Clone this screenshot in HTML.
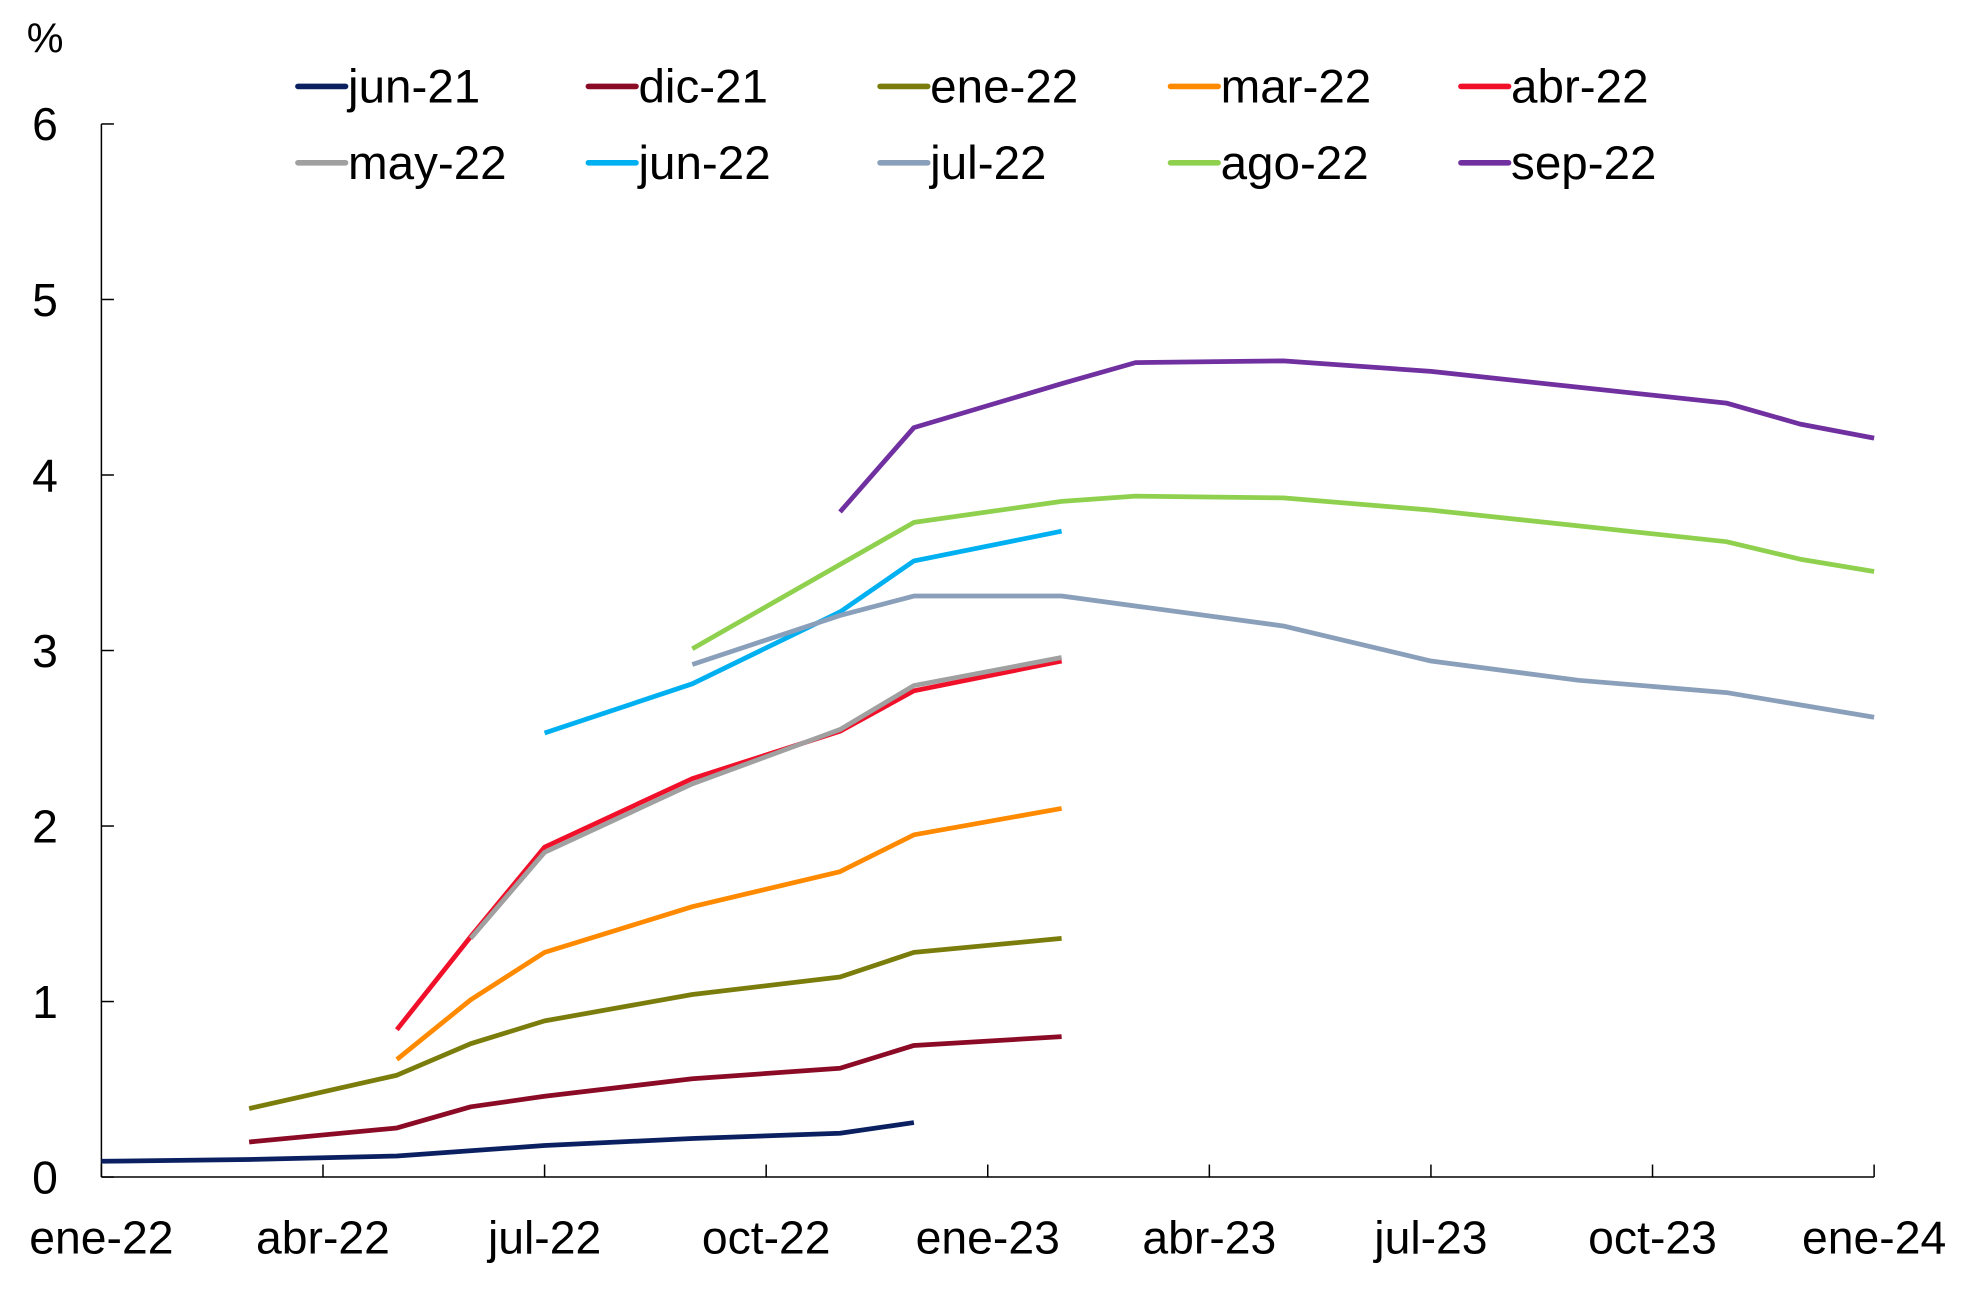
<!DOCTYPE html>
<html><head><meta charset="utf-8"><style>
html,body{margin:0;padding:0;background:#fff;}
svg{display:block;}
text{font-family:"Liberation Sans Narrow","Liberation Sans",sans-serif;fill:#000;}
</style></head><body>
<svg id="chart" width="1963" height="1291" viewBox="0 0 1568 1031" preserveAspectRatio="none" xmlns="http://www.w3.org/2000/svg">
<g id="axes"></g>
<g id="series"></g>
<g id="legend"></g>
</svg>
<script>
const xTickLabels = ["ene-22","abr-22","jul-22","oct-22","ene-23","abr-23","jul-23","oct-23","ene-24"];
const yTicks = [0,1,2,3,4,5,6];
const seriesNames = ["jun-21","dic-21","ene-22","mar-22","abr-22","may-22","jun-22","jul-22","ago-22","sep-22"];
const seriesColors = ["#0b2060","#8b0a25","#7a7d0c","#ff8a00","#f0102a","#a0a0a0","#00b0f0","#8a9fba","#8fd14f","#7030a0"];
// month index (0 = ene-22)
const months_jun21 = [0,2,4,6,8,10,11];
const values_jun21 = [0.09,0.10,0.12,0.18,0.22,0.25,0.31];
const months_dic21 = [2,4,5,6,8,10,11,13];
const values_dic21 = [0.20,0.28,0.40,0.46,0.56,0.62,0.75,0.80];
const months_ene22 = [2,4,5,6,8,10,11,13];
const values_ene22 = [0.39,0.58,0.76,0.89,1.04,1.14,1.28,1.36];
const months_mar22 = [4,5,6,8,10,11,13];
const values_mar22 = [0.67,1.01,1.28,1.54,1.74,1.95,2.10];
const months_abr22 = [4,5,6,8,10,11,13];
const values_abr22 = [0.84,1.37,1.88,2.27,2.54,2.77,2.94];
const months_may22 = [5,6,8,10,11,13];
const values_may22 = [1.36,1.85,2.24,2.55,2.80,2.96];
const months_jun22 = [6,8,10,11,13];
const values_jun22 = [2.53,2.81,3.22,3.51,3.68];
const months_jul22 = [8,10,11,13,16,18,20,22,24];
const values_jul22 = [2.92,3.20,3.31,3.31,3.14,2.94,2.83,2.76,2.62];
const months_ago22 = [8,11,13,14,16,18,20,22,23,24];
const values_ago22 = [3.01,3.73,3.85,3.88,3.87,3.80,3.71,3.62,3.52,3.45];
const months_sep22 = [10,11,13,14,16,18,20,22,23,24];
const values_sep22 = [3.79,4.27,4.52,4.64,4.65,4.59,4.50,4.41,4.29,4.21];

const allMonths = [months_jun21,months_dic21,months_ene22,months_mar22,months_abr22,months_may22,months_jun22,months_jul22,months_ago22,months_sep22];
const allValues = [values_jun21,values_dic21,values_ene22,values_mar22,values_abr22,values_may22,values_jun22,values_jul22,values_ago22,values_sep22];

const X0=81, X1=1497, Y0=940, Y1=99;
const xScale = m => X0 + (X1-X0)*m/24;
const yScale = v => Y0 - (Y0-Y1)*v/6;
const NS="http://www.w3.org/2000/svg";
function mk(tag, attrs, parent){const e=document.createElementNS(NS,tag);for(const k in attrs)e.setAttribute(k,attrs[k]);parent.appendChild(e);return e;}

const axes=document.getElementById('axes');
let el=mk('line',{x1:X0,y1:Y1,x2:X0,y2:Y0,stroke:'#000','stroke-width':1.2},axes);


el=mk('line',{x1:X0,y1:Y0,x2:X1,y2:Y0,stroke:'#000','stroke-width':1.2},axes);


yTicks.forEach(v=>{
  const y=yScale(v);
  const t=mk('line',{x1:X0,y1:y,x2:X0+10,y2:y,stroke:'#000','stroke-width':1.2},axes);
  
  
  const l=mk('text',{x:36,y:y+13,'font-size':37,'text-anchor':'middle'},axes);
  l.textContent=v;
  
  
});
xTickLabels.forEach((s,i)=>{
  const x=xScale(i*3);
  const t=mk('line',{x1:x,y1:Y0,x2:x,y2:Y0-10,stroke:'#000','stroke-width':1.2},axes);
  
  
  const l=mk('text',{x:x,y:1001,'font-size':37,'text-anchor':'middle'},axes);
  l.textContent=s;
  
  
});
el=mk('text',{x:36,y:42,'font-size':33,'text-anchor':'middle'},axes);
el.textContent='%';



const sg=document.getElementById('series');
allMonths.forEach((ms,i)=>{
  const pts=ms.map((m,j)=>xScale(m).toFixed(1)+','+yScale(allValues[i][j]).toFixed(1)).join(' ');
  const p=mk('polyline',{points:pts,fill:'none',stroke:seriesColors[i],'stroke-width':3.8,'stroke-linejoin':'round'},sg);
  
  
});

const lg=document.getElementById('legend');
const colX=[238,470,703,935,1167], rowY=[69,130];
seriesNames.forEach((n,i)=>{
  const x=colX[i%5], y=rowY[Math.floor(i/5)];
  const g=mk('g',{},lg);
  
  
  mk('line',{x1:x,y1:y,x2:x+38,y2:y,stroke:seriesColors[i],'stroke-width':4.5,'stroke-linecap':'round'},g);
  const t=mk('text',{x:x+40,y:y+13,'font-size':38},g);
  t.textContent=n;
});
</script>
</body></html>
